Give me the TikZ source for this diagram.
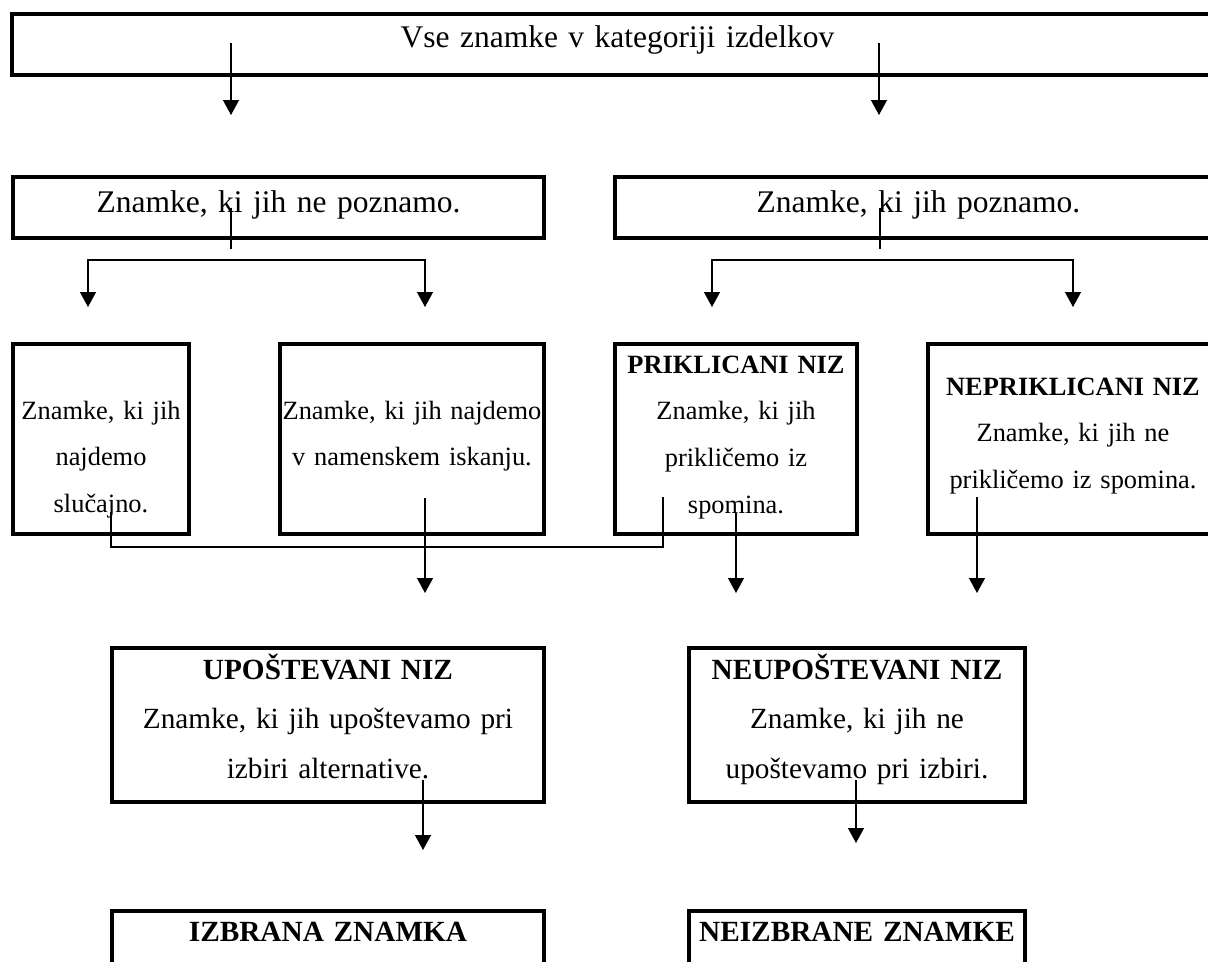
\documentclass[tikz,border=0pt]{standalone}
\usepackage{fontspec}
\setmainfont{Liberation Serif}
\usetikzlibrary{arrows.meta,positioning}
\newdimen\px
\px=0.02cm

\begin{document}
\begin{tikzpicture}[x=0.02cm,y=-0.02cm,>={Triangle[length=0.3cm,width=0.32cm]},line width=0.75pt,
    box/.style={draw, line width=2.3pt, shape=rectangle, align=center, inner sep=0pt},
    toptext/.style={font=\fontsize{17.93}{21.5}\selectfont},
    midtext/.style={font=\fontsize{15.02}{26.58}\selectfont},
    lowtext/.style={font=\fontsize{16.67}{28.45}\selectfont}]
\useasboundingbox (0,0) rectangle (1208,961);
\clip (0,0) rectangle (1208,961);
% boxes
\node[box, toptext, text width=1211\px, text height=33\px, text depth=28\px] (all) at (617.5,44.5) {Vse znamke v kategoriji izdelkov};
\node[box, toptext, text width=531\px, text height=35\px, text depth=26\px] (unknown) at (278.5,207.5) {Znamke, ki jih ne poznamo.};
\node[box, toptext, text width=607\px, text height=35\px, text depth=26\px] (known) at (918.5,207.5) {Znamke, ki jih poznamo.};
\node[box, midtext, text width=176\px, text height=75\px, text depth=115\px] (chance) at (101,439) {Znamke, ki jih\\najdemo\\slučajno.};
\node[box, midtext, text width=264\px, text height=75\px, text depth=115\px] (search) at (412,439) {Znamke, ki jih najdemo\\v namenskem iskanju.};
\node[box, midtext, text width=242\px, text height=29\px, text depth=161\px] (recall) at (736,439) {\textbf{PRIKLICANI NIZ}\\Znamke, ki jih\\prikličemo iz\\spomina.};
\node[box, midtext, text width=290\px, text height=51\px, text depth=139\px] (norecall) at (1073,439) {\textbf{NEPRIKLICANI NIZ}\\Znamke, ki jih ne\\prikličemo iz spomina.};
\node[box, lowtext, text width=432\px, text height=31\px, text depth=123\px] (consider) at (328,725) {\textbf{UPOŠTEVANI NIZ}\\Znamke, ki jih upoštevamo pri\\izbiri alternative.};
\node[box, lowtext, text width=336\px, text height=31\px, text depth=123\px] (noconsider) at (857,725) {\textbf{NEUPOŠTEVANI NIZ}\\Znamke, ki jih ne\\upoštevamo pri izbiri.};
\node[box, lowtext, text width=432\px, text height=30\px, text depth=124\px, below=2.1cm of consider] (chosen) {\textbf{IZBRANA ZNAMKA}};
\node[box, lowtext, text width=336\px, text height=30\px, text depth=124\px, below=2.1cm of noconsider] (notchosen) {\textbf{NEIZBRANE ZNAMKE}};
% arrows from the top box
\coordinate (a1) at (231,43);
\coordinate (a1e) at (231,115);
\coordinate (a2) at (879,43);
\coordinate (a2e) at (879,115);
\draw[->] (a1) -- (a1e);
\draw[->] (a2) -- (a2e);
% forks below the second row
\coordinate (s1) at (231,249);
\coordinate (f1) at (231,260);
\coordinate (f1a) at (88,307);
\coordinate (f1b) at (425,307);
\draw (unknown.center -| s1) -- (s1);
\draw[->] (f1) -| (f1a);
\draw[->] (f1) -| (f1b);
\coordinate (s2) at (880,249);
\coordinate (f2) at (880,260);
\coordinate (f2a) at (712,307);
\coordinate (f2b) at (1073,307);
\draw (known.center -| s2) -- (s2);
\draw[->] (f2) -| (f2a);
\draw[->] (f2) -| (f2b);
% bracket and arrows below the third row
\coordinate (g1) at (111,512);
\coordinate (g2) at (111,547);
\coordinate (g3) at (663,497);
\draw (g1) -- (g2) -| (g3);
\coordinate (c1) at (425,498);
\coordinate (c1e) at (425,593);
\coordinate (c2) at (736,513);
\coordinate (c2e) at (736,593);
\coordinate (c3) at (977,497);
\coordinate (c3e) at (977,593);
\draw[->] (c1) -- (c1e);
\draw[->] (c2) -- (c2e);
\draw[->] (c3) -- (c3e);
% arrows below the fourth row
\coordinate (d1) at (423,780);
\coordinate (d1e) at (423,850);
\coordinate (d2) at (856,780);
\coordinate (d2e) at (856,843);
\draw[->] (d1) -- (d1e);
\draw[->] (d2) -- (d2e);
\end{tikzpicture}
\end{document}
